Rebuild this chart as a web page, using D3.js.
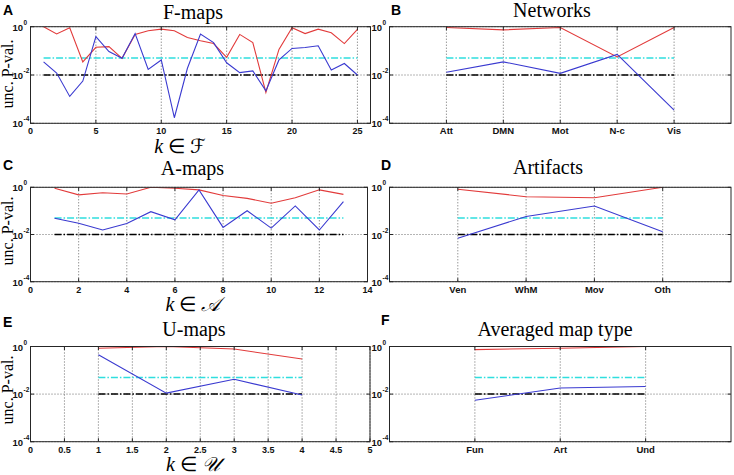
<!DOCTYPE html>
<html>
<head>
<meta charset="utf-8">
<script src="https://cdn.jsdelivr.net/npm/d3@7/dist/d3.min.js"></script>
<style>
  html, body { margin: 0; padding: 0; background: #fff; }
  svg { display: block; }
  .tick { font-family: "Liberation Sans", Arial, sans-serif; font-weight: bold; }
  .serif { font-family: "Liberation Serif", "Times New Roman", serif; }
</style>
</head>
<body>
<svg id="chart" width="734" height="475"></svg>
<script>
// ---------------- DATA ----------------
// Significance thresholds
const thresholdHigh = 0.05;   // cyan dash-dot
const thresholdLow = 0.01;    // black dash-dot

// y tick values (log scale)
const yTickValues = [1, 0.01, 0.0001];
const yTickExponents = ["0", "-2", "-4"];

// A: F-maps
const fMapsK = [1,2,3,4,5,6,7,8,9,10,11,12,13,14,15,16,17,18,19,20,21,22,23,24,25];
const fMapsRed = [1.0,0.50,0.91,0.035,0.14,0.15,0.049,0.48,0.68,0.79,0.68,0.36,0.26,0.20,0.054,0.48,0.22,0.0019,0.115,0.91,0.52,0.79,0.56,0.20,0.78];
const fMapsBlue = [0.035,0.012,0.0013,0.0056,0.39,0.093,0.049,0.52,0.017,0.042,0.00017,0.019,0.50,0.22,0.032,0.0126,0.0148,0.0022,0.042,0.126,0.138,0.162,0.0162,0.030,0.010];
const fMapsXTicks = [0,5,10,15,20,25];

// B: Networks
const networkCats = ["Att","DMN","Mot","N-c","Vis"];
const networkRed = [0.93,0.74,0.93,0.056,0.93];
const networkBlue = [0.0129,0.035,0.0117,0.071,0.00035];

// C: A-maps
const aMapsK = [1,2,3,4,5,6,7,8,9,10,11,12,13];
const aMapsRed = [0.91,0.48,0.59,0.52,1.0,0.91,0.78,0.45,0.34,0.21,0.36,0.78,0.50];
const aMapsBlue = [0.049,0.030,0.0155,0.029,0.093,0.042,0.78,0.020,0.102,0.0186,0.162,0.0155,0.245];
const aMapsXTicks = [0,2,4,6,8,10,12,14];

// D: Artifacts
const artifactCats = ["Ven","WhM","Mov","Oth"];
const artifactRed = [0.83,0.40,0.36,1.0];
const artifactBlue = [0.0069,0.058,0.162,0.0132];

// E: U-maps
const uMapsK = [1,2,3,4];
const uMapsRed = [0.85,1.0,0.78,0.30];
const uMapsBlue = [0.45,0.011,0.042,0.0091];
const uMapsXTicks = [0,0.5,1,1.5,2,2.5,3,3.5,4,4.5,5];

// F: Averaged map type
const avgCats = ["Fun","Art","Und"];
const avgRed = [0.74,0.85,1.0];
const avgBlue = [0.0055,0.018,0.021];

// ---------------- LAYOUT ----------------
const panels = [
  { letter:"A", title:"F-maps", titleX:193, titleY:19, letterX:3, letterY:15,
    left:30.5, right:370.5, top:26.7, bottom:123.3, domain:[0,26],
    xs:fMapsK, red:fMapsRed, blue:fMapsBlue, ticks:fMapsXTicks, cats:null,
    xlabel:"ℱ", xlabelX:180, ylabel:true, ylabelY:74 },
  { letter:"B", title:"Networks", titleX:552, titleY:17, letterX:391, letterY:15,
    left:389.5, right:731, top:26.7, bottom:123.3, domain:[0,6],
    xs:networkCats.map((d,i)=>i+1), red:networkRed, blue:networkBlue, ticks:null, cats:networkCats,
    xlabel:null, ylabel:false },
  { letter:"C", title:"A-maps", titleX:192.5, titleY:175, letterX:3, letterY:170,
    left:30.5, right:367.5, top:187.3, bottom:281.7, domain:[0,14],
    xs:aMapsK, red:aMapsRed, blue:aMapsBlue, ticks:aMapsXTicks, cats:null,
    xlabel:"𝒜", xlabelX:193, ylabel:true, ylabelY:231 },
  { letter:"D", title:"Artifacts", titleX:548, titleY:174, letterX:381, letterY:170,
    left:389.5, right:731, top:187.3, bottom:281.7, domain:[0,5],
    xs:artifactCats.map((d,i)=>i+1), red:artifactRed, blue:artifactBlue, ticks:null, cats:artifactCats,
    xlabel:null, ylabel:false },
  { letter:"E", title:"U-maps", titleX:194, titleY:336, letterX:3, letterY:327,
    left:30.5, right:370, top:346.5, bottom:441.7, domain:[0,5],
    xs:uMapsK, red:uMapsRed, blue:uMapsBlue, ticks:uMapsXTicks, cats:null,
    xlabel:"𝒰", xlabelX:193, ylabel:true, ylabelY:390 },
  { letter:"F", title:"Averaged map type", titleX:555, titleY:336, letterX:381, letterY:325,
    left:389.5, right:731, top:346.5, bottom:441.7, domain:[0,4],
    xs:avgCats.map((d,i)=>i+1), red:avgRed, blue:avgBlue, ticks:null, cats:avgCats,
    xlabel:null, ylabel:false }
];

const svg = d3.select("#chart");
svg.append("rect").attr("width",734).attr("height",475).attr("fill","#fff");

const RED = "#e23b3b", BLUE = "#3a3ad0", CYAN = "#2fdede", BOX = "#262626";

panels.forEach((p, pi) => {
  const g = svg.append("g");
  const x = d3.scaleLinear().domain(p.domain).range([p.left, p.right]);
  const y = d3.scaleLog().domain([1e-4, 1]).range([p.bottom, p.top]);
  const clipId = "clip" + pi;
  g.append("clipPath").attr("id", clipId).append("rect")
    .attr("x", p.left).attr("y", p.top).attr("width", p.right - p.left).attr("height", p.bottom - p.top);

  const xTickVals = p.cats ? p.cats.map((d,i)=>i+1) : p.ticks;
  const xTickText = p.cats ? p.cats : p.ticks.map(d => String(d));

  // vertical grid
  g.append("g").selectAll("line").data(xTickVals).join("line")
    .attr("x1", d => x(d)).attr("x2", d => x(d))
    .attr("y1", p.top).attr("y2", p.bottom)
    .attr("stroke", "#444").attr("stroke-width", 0.8).attr("stroke-dasharray", "1,2");
  // horizontal grid
  g.append("g").selectAll("line").data(yTickValues).join("line")
    .attr("x1", p.left).attr("x2", p.right)
    .attr("y1", d => y(d)).attr("y2", d => y(d))
    .attr("stroke", "#444").attr("stroke-width", 0.8).attr("stroke-dasharray", "1,2");

  const xs = p.xs;
  const x0 = xs[0], x1 = xs[xs.length - 1];
  const plot = g.append("g").attr("clip-path", `url(#${clipId})`);
  // thresholds
  plot.append("line").attr("x1", x(x0)).attr("x2", x(x1))
    .attr("y1", y(thresholdLow)).attr("y2", y(thresholdLow))
    .attr("stroke", "#000").attr("stroke-width", 1.5).attr("stroke-dasharray", "7,2,1.5,2");
  plot.append("line").attr("x1", x(x0)).attr("x2", x(x1))
    .attr("y1", y(thresholdHigh)).attr("y2", y(thresholdHigh))
    .attr("stroke", CYAN).attr("stroke-width", 1.5).attr("stroke-dasharray", "7,2,1.5,2");

  const line = d3.line().x(d => x(d[0])).y(d => y(d[1]));
  plot.append("path").datum(xs.map((k,i)=>[k, p.red[i]]))
    .attr("d", line).attr("fill","none").attr("stroke", RED).attr("stroke-width", 1.1);
  plot.append("path").datum(xs.map((k,i)=>[k, p.blue[i]]))
    .attr("d", line).attr("fill","none").attr("stroke", BLUE).attr("stroke-width", 1.1);

  // box
  g.append("rect").attr("x", p.left).attr("y", p.top)
    .attr("width", p.right - p.left).attr("height", p.bottom - p.top)
    .attr("fill", "none").attr("stroke", BOX).attr("stroke-width", 1);

  // inward tick marks
  const tl = 3.5;
  g.append("g").selectAll("path").data(yTickValues).join("path")
    .attr("d", d => `M${p.left},${y(d)}h${tl}M${p.right},${y(d)}h${-tl}`)
    .attr("stroke", BOX).attr("stroke-width", 1);
  g.append("g").selectAll("path").data(xTickVals).join("path")
    .attr("d", d => `M${x(d)},${p.bottom}v${-tl}M${x(d)},${p.top}v${tl}`)
    .attr("stroke", BOX).attr("stroke-width", 1);

  // x tick labels
  g.append("g").selectAll("text").data(xTickVals).join("text")
    .attr("class","tick")
    .attr("x", d => x(d)).attr("y", p.bottom + 11)
    .attr("text-anchor","middle")
    .attr("font-size", p.cats ? 9.5 : 9)
    .attr("fill","#111")
    .text((d,i) => xTickText[i]);

  // y tick labels: 10 with superscript exponent
  yTickValues.forEach((v, i) => {
    const ty = y(v);
    g.append("text").attr("class","tick").attr("x", p.left - 7.5).attr("y", ty + 4)
      .attr("text-anchor","end").attr("font-size", 9.5).attr("fill","#111").text("10");
    g.append("text").attr("class","tick").attr("x", p.left - 7).attr("y", ty - 2)
      .attr("text-anchor","start").attr("font-size", 6.5).attr("font-weight","normal").attr("fill","#111")
      .text(yTickExponents[i]);
  });

  // title
  g.append("text").attr("class","serif").attr("x", p.titleX).attr("y", p.titleY)
    .attr("text-anchor","middle").attr("font-size", 20).attr("fill","#000").text(p.title);
  // panel letter
  g.append("text").attr("x", p.letterX).attr("y", p.letterY)
    .attr("font-family", "'Liberation Sans', Arial, sans-serif").attr("font-weight","bold")
    .attr("font-size", 14).attr("fill","#000").text(p.letter);

  // y label
  if (p.ylabel) {
    g.append("text").attr("class","serif")
      .attr("transform", `translate(13,${p.ylabelY}) rotate(-90)`)
      .attr("text-anchor","middle").attr("font-size", 16).attr("fill","#000")
      .text("unc. P-val.");
  }
  // x label
  if (p.xlabel) {
    const t = g.append("text").attr("class","serif")
      .attr("x", p.xlabelX).attr("y", p.bottom + 29.5)
      .attr("text-anchor","middle").attr("font-size", 20).attr("fill","#000");
    t.append("tspan").attr("font-style","italic").text("k");
    t.append("tspan").text(" ∈ ");
    t.append("tspan").attr("font-family","'DejaVu Serif', 'DejaVu Sans', serif").attr("font-style","italic").text(p.xlabel);
  }
});
</script>
</body>
</html>
